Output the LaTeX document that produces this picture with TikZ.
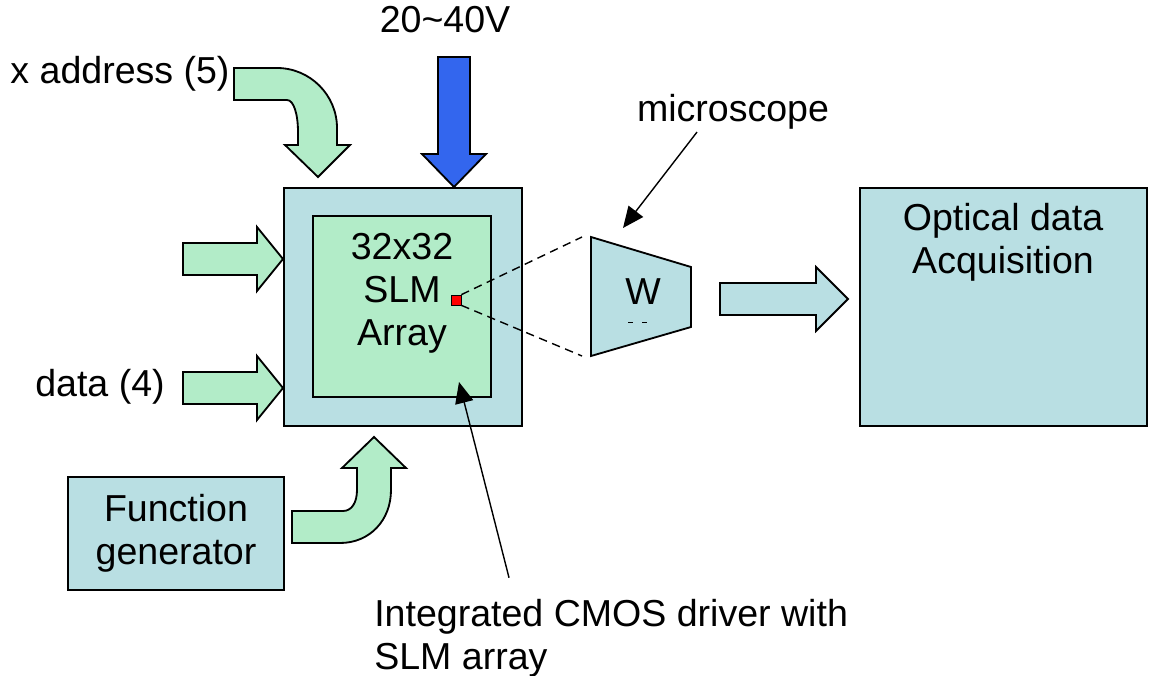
\documentclass[tikz,border=0pt]{standalone}
\usepackage{fontspec}
\setmainfont{Liberation Sans}
\usetikzlibrary{arrows.meta}
\definecolor{chipblue}{RGB}{185,223,227}
\definecolor{padgreen}{RGB}{178,236,200}
\definecolor{biasblue}{RGB}{51,102,238}
\begin{document}
\begin{tikzpicture}[x=0.025cm,y=-0.025cm,
  outline/.style={draw=black,line width=1.3pt},
  box/.style={outline,fill=chipblue,inner sep=0pt},
  fatarrow/.style={outline,fill=padgreen},
  lbl/.style={font=\fontsize{26.7}{30.5}\selectfont,inner sep=0pt},
  pointer/.style={line width=1pt,-{Triangle[length=15pt,width=13pt]}},
  beam/.style={line width=1pt,dash pattern=on 6pt off 4pt}]
\useasboundingbox (0,0) rectangle (1150,676);
\node[box,minimum width=5.95cm,minimum height=5.95cm] (chip) at (403,307) {};
\node[box,fill=padgreen,minimum width=4.45cm,minimum height=4.525cm] (slm) at (402,306.5) {};
\node[box,minimum width=7.175cm,minimum height=5.95cm] (daq) at (1003.5,307) {};
\node[box,lbl,align=center,minimum width=5.4cm,minimum height=2.825cm] (fgen) at (176,533.5) {Function\\generator};
\node[lbl,align=center] (slmtxt) at (402,293) {32x32\\SLM\\Array};
\node[lbl,align=center] (daqtxt) at (1003,242.5) {Optical data\\Acquisition};
\node[lbl,anchor=base] (xaddr) at (120,84) {x address (5)};
\node[lbl,anchor=base] (data) at (100,396) {data (4)};
\node[lbl,anchor=base] (hv) at (445,33) {20\textasciitilde40V};
\node[lbl,anchor=base] (scope) at (733,122) {microscope};
\node[lbl,align=left,anchor=west] (cmos) at (374,638) {Integrated CMOS driver with\\SLM array};
% microscope
\coordinate (w1) at (591,237);
\coordinate (w2) at (691,267);
\coordinate (w3) at (691,327);
\coordinate (w4) at (591,356);
\draw[box] (w1) -- (w2) -- (w3) -- (w4) -- cycle;
\node[lbl] (w) at (643,292) {W};
\draw[line width=0.6pt,dash pattern=on 3.5pt off 6.5pt] (628,322) -- (652,322);
\node[draw=black,fill=red,line width=0.6pt,minimum size=7pt,inner sep=0pt] (spot) at (456,300) {};
\coordinate (fovtop) at (582,237);
\coordinate (fovbot) at (582,356);
\draw[beam] (spot.north east) -- (fovtop) (spot.south east) -- (fovbot);
\coordinate (scopetip) at (623,228);
\coordinate (slmtip) at (459,382);
\draw[pointer] ([xshift=-0.9cm,yshift=-0.05cm]scope.south) -- (scopetip);
\draw[pointer] ([xshift=3.375cm,yshift=0.525cm]cmos.north west) -- (slmtip);
% block arrows
\draw[fatarrow] (183,243) -- (257,243) -- (257,227) -- (283,259) -- (257,291) -- (257,275) -- (183,275) -- cycle;
\draw[fatarrow] (183,372) -- (257,372) -- (257,356) -- (283,388) -- (257,420) -- (257,404) -- (183,404) -- cycle;
\draw[outline,fill=chipblue] (720,283) -- (816,283) -- (816,267) -- (848,299) -- (816,331) -- (816,315) -- (720,315) -- cycle;
\draw[outline,fill=biasblue] (438,57) -- (470,57) -- (470,154) -- (486,154) -- (454,187) -- (422,154) -- (438,154) -- cycle;
\draw[fatarrow] (234,68) -- (277,68) .. controls (310,68) and (337,95) .. (337,128) -- (337,145) -- (350,145) -- (318,177)
  -- (285,145) -- (298,145) -- (298,132) .. controls (298,115) and (294,100) .. (287,100) -- (234,100) -- cycle;
\draw[fatarrow] (292,543) -- (340,543) .. controls (370,543) and (391,520) .. (391,490) -- (391,468) -- (406,468) -- (374,437)
  -- (342,468) -- (357,468) -- (357,490) .. controls (357,502) and (352,511) .. (343,511) -- (292,511) -- cycle;
\end{tikzpicture}
\end{document}
